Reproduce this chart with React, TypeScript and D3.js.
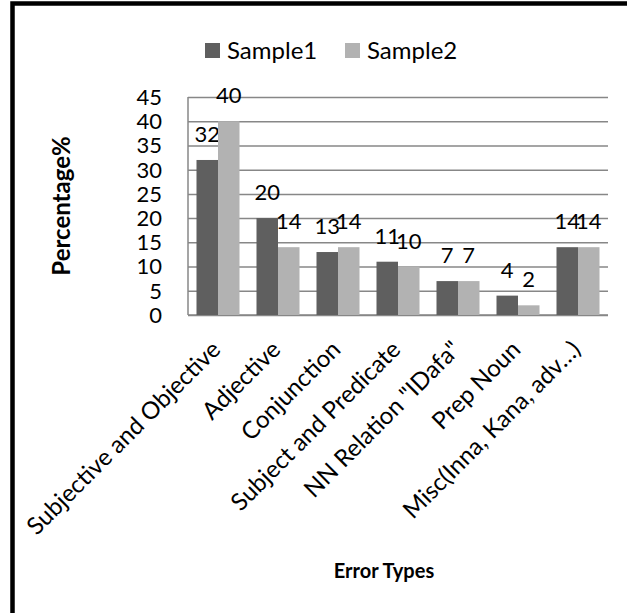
import React, { useRef, useEffect } from 'react';
import * as d3 from 'd3';

const categories = [
  'Subjective and Objective',
  'Adjective',
  'Conjunction',
  'Subject and Predicate',
  'NN Relation "IDafa"',
  'Prep Noun',
  'Misc(Inna, Kana, adv…)',
];
const sample1 = [32, 20, 13, 11, 7, 4, 14];
const sample2 = [40, 14, 14, 10, 7, 2, 14];
const seriesNames = ['Sample1', 'Sample2'];
const seriesColors = ['#5f5f5f', '#b2b2b2'];
const yTicks = [0, 5, 10, 15, 20, 25, 30, 35, 40, 45];

const FONT = 'Lato, "Open Sans", sans-serif';

const App = () => {
  const svgRef = useRef(null);
  const width = 627;
  const height = 613;
  const plot = { left: 188, right: 608, top: 97, bottom: 315 };

  useEffect(() => {
    const svg = d3.select(svgRef.current);
    svg.selectAll('*').remove();

    // outer frame (only left + top edges show, like the cropped original)
    svg.append('rect')
      .attr('x', 12.5).attr('y', 3.5)
      .attr('width', 800).attr('height', 800)
      .attr('fill', 'white')
      .attr('stroke', 'black')
      .attr('stroke-width', 4.5);

    const x0 = d3.scaleBand().domain(categories).range([plot.left, plot.right]);
    const x1 = d3.scaleBand().domain(seriesNames).range([8.5, x0.bandwidth() - 8.5]);
    const y = d3.scaleLinear().domain([0, 45]).range([plot.bottom, plot.top]);

    // grid lines
    const yAxis = d3.axisLeft(y).tickValues(yTicks).tickSize(-(plot.right - plot.left)).tickFormat(() => '');
    const yg = svg.append('g').attr('transform', `translate(${plot.left},0)`).call(yAxis);
    yg.select('.domain').remove();
    yg.selectAll('line').attr('stroke', '#878787').attr('stroke-width', 1.5);

    // tick labels
    svg.append('g').selectAll('text')
      .data(yTicks).enter().append('text')
      .attr('x', 162).attr('y', (d) => y(d))
      .attr('dy', '0.36em')
      .attr('text-anchor', 'end')
      .attr('font-family', FONT).attr('font-size', 22)
      .text((d) => d);

    // axis lines
    svg.append('line')
      .attr('x1', plot.left).attr('x2', plot.left)
      .attr('y1', plot.top).attr('y2', plot.bottom)
      .attr('stroke', '#878787').attr('stroke-width', 1.5);
    svg.append('line')
      .attr('x1', plot.left).attr('x2', plot.right)
      .attr('y1', plot.bottom).attr('y2', plot.bottom)
      .attr('stroke', '#878787').attr('stroke-width', 1.5);

    const series = [sample1, sample2];
    series.forEach((vals, si) => {
      const g = svg.append('g');
      g.selectAll('rect')
        .data(vals).enter().append('rect')
        .attr('x', (d, i) => x0(categories[i]) + x1(seriesNames[si]))
        .attr('y', (d) => y(d))
        .attr('width', x1.bandwidth())
        .attr('height', (d) => plot.bottom - y(d))
        .attr('fill', seriesColors[si]);
      g.selectAll('text')
        .data(vals).enter().append('text')
        .attr('x', (d, i) => x0(categories[i]) + x1(seriesNames[si]) + x1.bandwidth() / 2)
        .attr('y', (d) => y(d) - 18)
        .attr('text-anchor', 'middle')
        .attr('font-family', FONT).attr('font-size', 22)
        .text((d) => d);
    });

    // category labels
    svg.append('g').selectAll('text')
      .data(categories).enter().append('text')
      .attr('transform', (d) => `translate(${x0(d) + x0.bandwidth() / 2 + 4},${plot.bottom + 36}) rotate(-45)`)
      .attr('text-anchor', 'end')
      .attr('font-family', FONT).attr('font-size', 24)
      .text((d) => d);

    // axis titles
    svg.append('text')
      .attr('transform', 'translate(70,206) rotate(-90)')
      .attr('text-anchor', 'middle')
      .attr('font-family', FONT).attr('font-size', 24).attr('font-weight', 'bold')
      .text('Percentage%');
    svg.append('text')
      .attr('x', 384).attr('y', 578)
      .attr('text-anchor', 'middle')
      .attr('font-family', FONT).attr('font-size', 20).attr('font-weight', 'bold')
      .text('Error Types');

    // legend
    const legendX = [205, 345];
    seriesNames.forEach((name, i) => {
      svg.append('rect')
        .attr('x', legendX[i]).attr('y', 43)
        .attr('width', 15).attr('height', 15)
        .attr('fill', seriesColors[i]);
      svg.append('text')
        .attr('x', legendX[i] + 22).attr('y', 59)
        .attr('font-family', FONT).attr('font-size', 24)
        .text(name);
    });
  }, []);

  return (
    <svg ref={svgRef} width={width} height={height}
      style={{ position: 'absolute', left: 0, top: 0, background: 'white' }} />
  );
};

export default App;
